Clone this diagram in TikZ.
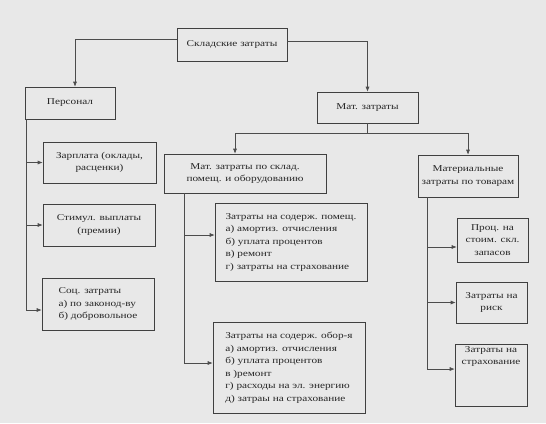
\documentclass[tikz,border=0pt]{standalone}
\usepackage{fontspec}
\setmainfont[FakeStretch=1.25]{Liberation Serif}
\usetikzlibrary{arrows.meta,backgrounds}
\tikzstyle{box}=[rectangle, draw=black!75, line width=0.6pt, inner sep=2pt, align=center, text=black!85, font=\fontsize{9}{12.5}\selectfont]
\tikzstyle{list}=[rectangle, draw=black!75, line width=0.6pt, inner sep=2pt, align=left, text=black!85, font=\fontsize{9}{12.5}\selectfont]
\tikzstyle{line}=[draw=black!70, line width=0.6pt]
\tikzstyle{arr}=[draw=black!70, line width=0.6pt, -{Latex[length=5pt,width=4pt]}]

\begin{document}
\begin{tikzpicture}[x=1pt,y=-1pt]
%background
\fill[black!9](0,0) rectangle(546,423);

%Top
\node[box, minimum width=110pt, minimum height=33pt] (skl) at (232,44.5){Складские затраты};
\node[box, minimum width=90pt, minimum height=32pt] (pers) at (70,103){Персонал};
\node[box, minimum width=101pt, minimum height=31pt] (mat) at (367.5,107.5){Мат. затраты};
%Left column
\node[box, minimum width=113pt, minimum height=41pt] (zarp) at (99.5,162.5){Зарплата (оклады,\\расценки)};
\node[box, minimum width=112pt, minimum height=42pt] (stim) at (99,225){Стимул. выплаты\\(премии)};
\node[list, minimum width=112pt, minimum height=52pt] (soc) at (98,304){Соц. затраты\\а) по законод-ву\\б) добровольное};
%Middle column
\node[box, minimum width=162pt, minimum height=39pt] (sklad) at (245,173.5){Мат. затраты по склад.\\помещ. и оборудованию};
\node[list, minimum width=152pt, minimum height=78pt] (pom) at (291,242){Затраты на содерж. помещ.\\а) амортиз. отчисления\\б) уплата процентов\\в) ремонт\\г) затраты на страхование};
\node[list, minimum width=152pt, minimum height=91pt] (obor) at (289,367.5){Затраты на содерж. обор-я\\а) амортиз. отчисления\\б) уплата процентов\\в )ремонт\\г) расходы на эл. энергию\\д) затраы на страхование};
%Right column
\node[box, minimum width=100pt, minimum height=42pt] (tov) at (468,176){Материальные\\затраты по товарам};
\node[box, minimum width=71pt, minimum height=44pt] (proc) at (492.5,240){Проц. на\\стоим. скл.\\запасов};
\node[box, minimum width=71pt, minimum height=41pt] (risk) at (491.5,302.5){Затраты на\\риск};
\node[box, minimum width=72pt, inner ysep=2pt, text depth=40pt, anchor=north] (strakh) at (491,344){Затраты на\\страхование};

%Junctions
\coordinate (jm) at (367.5,133);
\coordinate (pv) at (26,119);
\coordinate (sv) at (184,193);
\coordinate (tv) at (427,197);

%Connectors
\draw[arr] ([yshift=5.5pt]skl.west) -| ([xshift=5pt]pers.north);
\draw[arr] ([yshift=3.5pt]skl.east) -| (mat.north);
\draw[line] (mat.south) -- (jm);
\draw[arr] (jm) -| ([xshift=-10pt]sklad.north);
\draw[arr] (jm) -| (tov.north);

\draw[line] (pv) -- (26,310);
\draw[arr] (pv) |- (zarp.west);
\draw[arr] (pv) |- (stim.west);
\draw[arr] (pv) |- ([yshift=-6pt]soc.west);

\draw[arr] (sv) |- ([yshift=7pt]pom.west);
\draw[arr] (sv) |- ([yshift=4.5pt]obor.west);

\draw[arr] (tv) |- ([yshift=-7pt]proc.west);
\draw[arr] (tv) |- (risk.west);
\draw[arr] (tv) |- ([yshift=6.5pt]strakh.west);
\end{tikzpicture}
\end{document}
